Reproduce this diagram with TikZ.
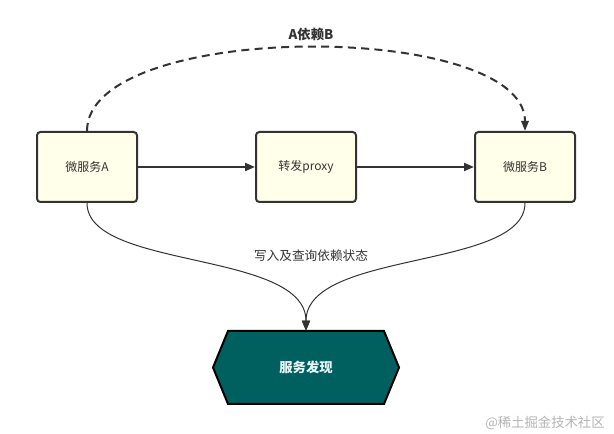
\documentclass[tikz,border=0pt]{standalone}
\usepackage{fontspec}
\setmainfont{Noto Sans CJK SC}
\usetikzlibrary{arrows.meta}

\definecolor{boxfill}{HTML}{FFFFEA}
\definecolor{boxline}{HTML}{333333}
\definecolor{discfill}{HTML}{005F5F}
\definecolor{disctext}{HTML}{E6F6F6}
\definecolor{markgray}{HTML}{B4B4B4}

\begin{document}
\begin{tikzpicture}[x=0.75pt,y=-0.75pt,
  svcbox/.style={draw=boxline, fill=boxfill, line width=1.5pt, rounded corners=2.5pt,
    minimum width=75pt, minimum height=52.5pt, text=boxline, font=\fontsize{9}{11}\selectfont},
  flow/.style={draw=boxline, line width=1.5pt, -{Triangle[length=7.5pt,width=6pt]}},
  depend/.style={draw=boxline, line width=1.5pt, dash pattern=on 6pt off 4pt,
    -{Triangle[length=7.5pt,width=5.5pt]}},
  query/.style={draw=boxline, line width=0.75pt, -{Triangle[length=7.5pt,width=6pt]}}]
  \useasboundingbox (0,0) rectangle (614,434);

  % Services (top row)
  \node[svcbox] (svcA) at (87,167) {微服务A};
  \node[svcbox] (proxy) at (306,167) {转发proxy};
  \node[svcbox] (svcB) at (525,167) {微服务B};

  % Call chain through the proxy
  \draw[flow] (svcA) -- (proxy);
  \draw[flow] (proxy) -- (svcB);

  % Dependency A -> B
  \draw[depend] (svcA.north) .. controls (87,20) and (525,20) .. (svcB.north);
  \node[font=\fontsize{10}{12}\selectfont\bfseries, text=boxline] (deplabel) at (311,34) {A依赖B};

  % Service discovery (bottom)
  \filldraw[draw=black, fill=discfill, line width=1.5pt]
    (213,367.5) -- (228,331) -- (384,331) -- (399,367.5) -- (384,404) -- (228,404) -- cycle;
  \node[minimum width=139.5pt, minimum height=54.75pt, text=disctext,
    font=\fontsize{10}{12}\selectfont\bfseries] (disc) at (306,367.5) {服务发现};

  % Write / query dependency state
  \draw[query] (svcA.south) .. controls (87,270) and (306,250) .. (disc.north);
  \draw[query] (svcB.south) .. controls (525,270) and (306,250) .. (disc.north);
  \node[font=\fontsize{9.5}{11}\selectfont, text=boxline] (statelabel) at (311,256) {写入及查询依赖状态};

  % Watermark
  \node[font=\fontsize{10}{12}\selectfont, text=markgray] (mark) at (545,423) {@稀土掘金技术社区};
\end{tikzpicture}
\end{document}
